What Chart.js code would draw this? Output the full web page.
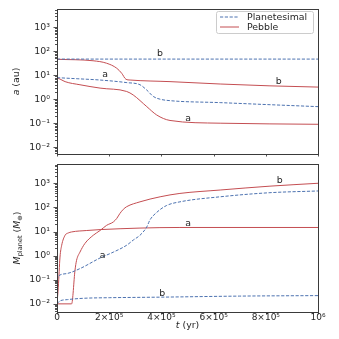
<!DOCTYPE html>
<html><head><meta charset="utf-8">
<script src="https://cdn.jsdelivr.net/npm/chart.js@4"></script>
<style>
html,body{margin:0;padding:0;background:#fff;overflow:hidden}
#w{position:relative;width:339px;height:339px;background:#fff}
canvas{position:absolute;left:0}
</style></head><body>
<div id="w">
<canvas id="c1" width="339" height="164" style="top:0"></canvas>
<canvas id="c2" width="339" height="179" style="top:160px"></canvas>
</div>
<script>
// ---------- data ----------
const yearTicks = [0, 2e5, 4e5, 6e5, 8e5, 1e6];
const yearTickLabels = ['0', '2×10⁵', '4×10⁵', '6×10⁵', '8×10⁵', '10⁶'];
const logTicks = [1e-2, 1e-1, 1, 10, 100, 1000];
const logTickLabels = ['10⁻²', '10⁻¹', '10⁰', '10¹', '10²', '10³'];
const seriesNames = ['Planetesimal', 'Pebble'];

// top panel: semi-major axis a (au)
const topBlueB_t = [0, 5e5, 1e6];
const topBlueB_v = [47, 47, 47];
const topBlueA_t = [0, 8e4, 1.65e5, 2.68e5, 3.18e5, 3.44e5, 3.69e5, 3.95e5, 4.33e5, 6.25e5, 8.16e5, 1e6];
const topBlueA_v = [7.9, 7.1, 6.3, 4.9, 4.0, 2.4, 1.3, 1.0, 0.87, 0.72, 0.59, 0.49];
const topRedB_t = [0, 1.38e5, 1.9e5, 2.29e5, 2.48e5, 2.64e5, 2.8e5, 4.33e5, 6.25e5, 8.16e5, 1e6];
const topRedB_v = [46, 40, 31.6, 19.5, 12, 6.8, 6.3, 5.4, 4.3, 3.6, 3.2];
const topRedA_t = [0, 1.5e4, 3.1e4, 8.8e4, 1.65e5, 2.67e5, 2.92e5, 3.44e5, 3.82e5, 4.33e5, 6.25e5, 1e6];
const topRedA_v = [7.9, 6.6, 5.4, 4.0, 2.9, 2.1, 1.5, 0.49, 0.22, 0.13, 0.1, 0.09];

// bottom panel: planet mass (Earth masses)
const botBlueB_t = [0, 1e4, 4e4, 1e5, 2e5, 4e5, 7e5, 1e6];
const botBlueB_v = [0.01, 0.013, 0.015, 0.017, 0.018, 0.019, 0.021, 0.022];
const botBlueA_t = [0, 5e3, 3.7e4, 8.8e4, 1.65e5, 2.16e5, 2.67e5, 2.92e5, 3.18e5, 3.44e5, 3.56e5, 3.82e5, 4.2e5, 4.71e5, 6.25e5, 8.16e5, 1e6];
const botBlueA_v = [0.095, 0.14, 0.18, 0.29, 0.8, 1.4, 2.7, 4.4, 7, 15.5, 30, 62, 120, 170, 275, 407, 480];
const botRedA_t = [0, 5e3, 1.15e4, 1.8e4, 3.1e4, 4.3e4, 5.6e4, 1.14e5, 1.65e5, 4.71e5, 1e6];
const botRedA_v = [0.01, 0.049, 0.87, 2.7, 7, 8.7, 9.6, 11, 12, 14.7, 14.7];
const botRedB_t = [0, 5.6e4, 6.9e4, 7.5e4, 8.8e4, 1.07e5, 1.39e5, 1.65e5, 1.9e5, 2.16e5, 2.29e5, 2.41e5, 2.54e5, 2.67e5, 3.18e5, 3.95e5, 4.71e5, 6.25e5, 8.16e5, 1e6];
const botRedB_v = [0.01, 0.01, 0.25, 0.64, 1.4, 3.2, 7, 11, 18, 25, 35, 56, 83, 107, 170, 275, 380, 525, 760, 1000];

// curve labels (text, t, value)
const topLabelText = ['b', 'a', 'b', 'a'];
const topLabelT = [3.95e5, 1.84e5, 8.5e5, 5.02e5];
const topLabelV = [77, 10.3, 5.5, 0.16];
const botLabelText = ['b', 'a', 'a', 'b'];
const botLabelT = [8.53e5, 5.02e5, 1.75e5, 4.03e5];
const botLabelV = [1330, 21.5, 1.0, 0.027];

// ---------- drawing ----------
const BLUE = '#4c72b0', RED = '#c44e52', INK = '#262626';
const FAM = '"DejaVu Sans", sans-serif';

function pts(t, v) { return t.map((x, i) => ({ x: x, y: v[i] })); }
function ds(label, t, v, color, dashed) {
  return { label: label, data: pts(t, v), borderColor: color, borderWidth: 1,
    borderDash: dashed ? [3.2, 1.6] : [], pointRadius: 0, fill: false,
    cubicInterpolationMode: 'monotone' };
}
function segFont(s, size) {
  return (s.it ? 'italic ' : '') + (s.sub ? size * 0.7 : size) + 'px ' + FAM;
}
function drawRich(ctx, segs, cx, cy, size, rotate) {
  ctx.save();
  ctx.translate(cx, cy);
  if (rotate) ctx.rotate(-Math.PI / 2);
  let w = 0;
  const ms = segs.map(s => { ctx.font = segFont(s, size); const m = ctx.measureText(s.t).width; w += m; return m; });
  let x = -w / 2;
  ctx.textBaseline = 'middle'; ctx.textAlign = 'left'; ctx.fillStyle = INK;
  segs.forEach((s, i) => { ctx.font = segFont(s, size); ctx.fillText(s.t, x, s.sub ? size * 0.3 : 0); x += ms[i]; });
  ctx.restore();
}

const decor = {
  id: 'decor',
  afterDraw(chart, args, o) {
    const ctx = chart.ctx, a = chart.chartArea, xs = chart.scales.x, ys = chart.scales.y;
    ctx.save();
    // tick marks
    ctx.strokeStyle = INK; ctx.lineWidth = 0.8;
    ctx.beginPath();
    for (let e = -3; e <= 3; e++) {
      for (let k = 1; k <= 9; k++) {
        const v = k * Math.pow(10, e);
        if (v < ys.min || v > ys.max) continue;
        const py = Math.round(ys.getPixelForValue(v)) + 0.5;
        const len = k === 1 ? 3.5 : 2;
        ctx.moveTo(a.left - len, py); ctx.lineTo(a.left, py);
      }
    }
    yearTicks.forEach(v => {
      const px = Math.round(xs.getPixelForValue(v)) + 0.5;
      ctx.moveTo(px, a.bottom); ctx.lineTo(px, a.bottom + 2.5);
    });
    ctx.stroke();
    // frame
    ctx.strokeStyle = '#3a3a3a'; ctx.lineWidth = 1;
    ctx.strokeRect(Math.round(a.left) + 0.5, Math.round(a.top) + 0.5, Math.round(a.right - a.left), Math.round(a.bottom - a.top));
    // curve labels
    ctx.fillStyle = INK; ctx.font = '9.4px ' + FAM; ctx.textAlign = 'center'; ctx.textBaseline = 'middle';
    o.labels.text.forEach((t, i) => {
      ctx.fillText(t, xs.getPixelForValue(o.labels.t[i]), ys.getPixelForValue(o.labels.v[i]));
    });
    // axis titles
    o.titles.forEach(tt => drawRich(ctx, tt.segs, tt.x, tt.y, 9.4, tt.rot));
    // legend
    if (o.legend) {
      const L = o.legend;
      ctx.fillStyle = 'rgba(255,255,255,0.85)'; ctx.strokeStyle = '#cccccc'; ctx.lineWidth = 1;
      ctx.beginPath();
      if (ctx.roundRect) ctx.roundRect(216.5, 11.5, 97, 22, 2); else ctx.rect(216.5, 11.5, 97, 22);
      ctx.fill(); ctx.stroke();
      const rows = [{ c: BLUE, d: [3.2, 1.6], y: 17 }, { c: RED, d: [], y: 27 }];
      rows.forEach((r, i) => {
        ctx.strokeStyle = r.c; ctx.setLineDash(r.d); ctx.lineWidth = 1;
        ctx.beginPath(); ctx.moveTo(220, r.y); ctx.lineTo(239, r.y); ctx.stroke();
        ctx.setLineDash([]);
        ctx.fillStyle = INK; ctx.font = '9.4px ' + FAM; ctx.textAlign = 'left'; ctx.textBaseline = 'middle';
        ctx.fillText(L[i], 247, r.y + 0.5);
      });
    }
    ctx.restore();
  }
};

function makeChart(id, datasets, cfg) {
  return new Chart(document.getElementById(id), {
    type: 'line',
    data: { datasets: datasets },
    plugins: [decor],
    options: {
      responsive: false, animation: false, devicePixelRatio: 1,
      layout: { padding: cfg.padding },
      plugins: { legend: { display: false }, tooltip: { enabled: false }, decor: cfg.decor },
      scales: {
        x: {
          type: 'linear', min: 0, max: 1e6, bounds: 'data',
          afterBuildTicks: s => { s.ticks = yearTicks.map(v => ({ value: v })); },
          afterFit: s => { s.height = cfg.xHeight; s.paddingLeft = 0; s.paddingRight = 0; s.paddingTop = 0; s.paddingBottom = 0; },
          grid: { display: false, drawTicks: false }, border: { display: false },
          ticks: { display: cfg.xLabels, autoSkip: false, maxRotation: 0, padding: 0, color: INK,
            font: { family: FAM, size: 9 },
            callback: (v) => { const i = yearTicks.indexOf(v); return i >= 0 ? yearTickLabels[i] : ''; } }
        },
        y: {
          type: 'logarithmic', min: cfg.ymin, max: cfg.ymax, bounds: 'data',
          afterBuildTicks: s => { s.ticks = logTicks.map(v => ({ value: v })); },
          afterFit: s => { s.width = 57; s.paddingLeft = 0; s.paddingRight = 0; s.paddingTop = 0; s.paddingBottom = 0; },
          grid: { display: false, drawTicks: false }, border: { display: false },
          ticks: { autoSkip: false, padding: 7, color: INK, font: { family: FAM, size: 9.4 },
            callback: (v) => { const i = logTicks.findIndex(t => Math.abs(t - v) / t < 1e-6); return i >= 0 ? logTickLabels[i] : ''; } }
        }
      }
    }
  });
}

makeChart('c1', [
  ds(seriesNames[0] + ' b', topBlueB_t, topBlueB_v, BLUE, true),
  ds(seriesNames[0] + ' a', topBlueA_t, topBlueA_v, BLUE, true),
  ds(seriesNames[1] + ' b', topRedB_t, topRedB_v, RED, false),
  ds(seriesNames[1] + ' a', topRedA_t, topRedA_v, RED, false)
], {
  padding: { left: 0, right: 21, top: 9, bottom: 0 }, xHeight: 10, xLabels: false,
  ymin: 0.0052, ymax: 5750,
  decor: {
    labels: { text: topLabelText, t: topLabelT, v: topLabelV },
    titles: [{ segs: [{ t: 'a', it: 1 }, { t: ' (au)' }], x: 16.7, y: 81.5, rot: true }],
    legend: seriesNames
  }
});

makeChart('c2', [
  ds(seriesNames[0] + ' b', botBlueB_t, botBlueB_v, BLUE, true),
  ds(seriesNames[0] + ' a', botBlueA_t, botBlueA_v, BLUE, true),
  ds(seriesNames[1] + ' a', botRedA_t, botRedA_v, RED, false),
  ds(seriesNames[1] + ' b', botRedB_t, botRedB_v, RED, false)
], {
  padding: { left: 0, right: 21, top: 4, bottom: 0 }, xHeight: 27, xLabels: true,
  ymin: 0.0046, ymax: 6300,
  decor: {
    labels: { text: botLabelText, t: botLabelT, v: botLabelV },
    titles: [
      { segs: [{ t: 'M', it: 1 }, { t: 'planet', sub: 1 }, { t: ' (' }, { t: 'M', it: 1 }, { t: '⊕', sub: 1 }, { t: ')' }], x: 17.5, y: 78, rot: true },
      { segs: [{ t: 't', it: 1 }, { t: ' (yr)' }], x: 187.5, y: 166, rot: false }
    ],
    legend: null
  }
});
</script>
</body></html>
